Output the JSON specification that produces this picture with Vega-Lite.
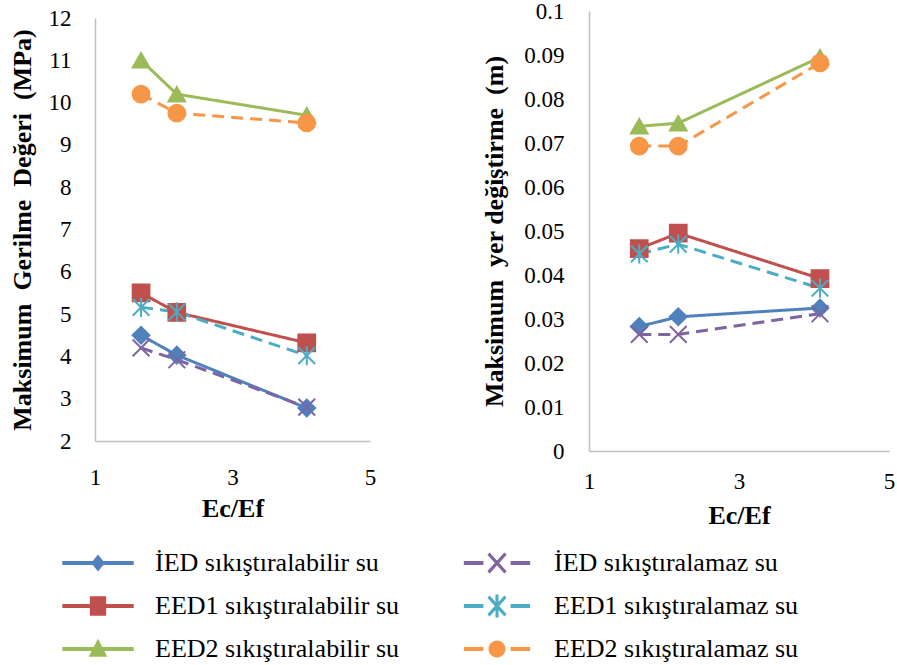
{
  "$schema": "https://vega.github.io/schema/vega-lite/v6.json",
  "background": "white",
  "padding": {"left": 9, "top": 0, "right": 0, "bottom": 0},
  "datasets": {
    "olcum": [
      {"seri": "İED sıkıştıralabilir su", "EcEf": 1.67, "gerilme": 4.5, "yer": 0.0283},
      {"seri": "İED sıkıştıralabilir su", "EcEf": 2.19, "gerilme": 4.03, "yer": 0.0305},
      {"seri": "İED sıkıştıralabilir su", "EcEf": 4.08, "gerilme": 2.78, "yer": 0.0325},
      {"seri": "İED sıkıştıralamaz su", "EcEf": 1.67, "gerilme": 4.2, "yer": 0.0265},
      {"seri": "İED sıkıştıralamaz su", "EcEf": 2.19, "gerilme": 3.92, "yer": 0.0265},
      {"seri": "İED sıkıştıralamaz su", "EcEf": 4.08, "gerilme": 2.8, "yer": 0.0312},
      {"seri": "EED1 sıkıştıralabilir su", "EcEf": 1.67, "gerilme": 5.5, "yer": 0.046},
      {"seri": "EED1 sıkıştıralabilir su", "EcEf": 2.19, "gerilme": 5.04, "yer": 0.0495},
      {"seri": "EED1 sıkıştıralabilir su", "EcEf": 4.08, "gerilme": 4.32, "yer": 0.0392},
      {"seri": "EED1 sıkıştıralamaz su", "EcEf": 1.67, "gerilme": 5.16, "yer": 0.0448},
      {"seri": "EED1 sıkıştıralamaz su", "EcEf": 2.19, "gerilme": 5.05, "yer": 0.047},
      {"seri": "EED1 sıkıştıralamaz su", "EcEf": 4.08, "gerilme": 4.02, "yer": 0.037},
      {"seri": "EED2 sıkıştıralabilir su", "EcEf": 1.67, "gerilme": 11.0, "yer": 0.0738},
      {"seri": "EED2 sıkıştıralabilir su", "EcEf": 2.19, "gerilme": 10.2, "yer": 0.0745},
      {"seri": "EED2 sıkıştıralabilir su", "EcEf": 4.08, "gerilme": 9.7, "yer": 0.0895},
      {"seri": "EED2 sıkıştıralamaz su", "EcEf": 1.67, "gerilme": 10.2, "yer": 0.0693},
      {"seri": "EED2 sıkıştıralamaz su", "EcEf": 2.19, "gerilme": 9.75, "yer": 0.0693},
      {"seri": "EED2 sıkıştıralamaz su", "EcEf": 4.08, "gerilme": 9.52, "yer": 0.0882}
    ]
  },
  "data": {"name": "olcum"},
  "spacing": 105,
  "center": true,
  "hconcat": [
    {
      "width": 275,
      "height": 423,
      "encoding": {
        "x": {"field": "EcEf", "type": "quantitative", "scale": {"domain": [1, 5]},
              "axis": {"title": "Ec/Ef", "values": [1, 3, 5], "format": "d", "labelPadding": 25, "titlePadding": 6}},
        "y": {"field": "gerilme", "type": "quantitative", "scale": {"domain": [2, 12], "zero": false},
              "axis": {"title": "Maksimum\u00a0 Gerilme\u00a0 Değeri\u00a0 (MPa)", "values": [2, 3, 4, 5, 6, 7, 8, 9, 10, 11, 12], "labelPadding": 24, "titlePadding": 13}},
        "color": {"field": "seri", "type": "nominal", "legend": {"title": null},
                  "scale": {"domain": ["İED sıkıştıralabilir su", "EED1 sıkıştıralabilir su", "EED2 sıkıştıralabilir su", "İED sıkıştıralamaz su", "EED1 sıkıştıralamaz su", "EED2 sıkıştıralamaz su"],
                            "range": ["#4F81BD", "#C0504D", "#9BBB59", "#8064A2", "#4BACC6", "#F79646"]}}
      },
      "layer": [
        {
          "mark": {"type": "line", "strokeWidth": 3},
          "encoding": {
            "strokeDash": {"field": "seri", "type": "nominal", "legend": null,
                           "scale": {"domain": ["İED sıkıştıralabilir su", "EED1 sıkıştıralabilir su", "EED2 sıkıştıralabilir su", "İED sıkıştıralamaz su", "EED1 sıkıştıralamaz su", "EED2 sıkıştıralamaz su"],
                                     "range": [[1, 0], [1, 0], [1, 0], [12, 7], [12, 7], [12, 7]]}}
          }
        },
        {
          "transform": [{"filter": {"field": "seri", "equal": "İED sıkıştıralabilir su"}}],
          "mark": {"type": "point", "shape": "diamond", "filled": true, "opacity": 1, "size": 280, "strokeWidth": 2, "stroke": {"expr": "scale('color', datum.seri)"}}
        },
        {
          "transform": [{"filter": {"field": "seri", "equal": "İED sıkıştıralamaz su"}}],
          "mark": {"type": "point", "shape": "M-1,-1L1,1M-1,1L1,-1", "filled": true, "opacity": 1, "size": 280, "strokeWidth": 2, "stroke": {"expr": "scale('color', datum.seri)"}}
        },
        {
          "transform": [{"filter": {"field": "seri", "equal": "EED1 sıkıştıralabilir su"}}],
          "mark": {"type": "point", "shape": "square", "filled": true, "opacity": 1, "size": 280, "strokeWidth": 2, "stroke": {"expr": "scale('color', datum.seri)"}}
        },
        {
          "transform": [{"filter": {"field": "seri", "equal": "EED1 sıkıştıralamaz su"}}],
          "mark": {"type": "point", "shape": "M-1,-1L1,1M-1,1L1,-1M0,-1.15V1.15", "filled": true, "opacity": 1, "size": 280, "strokeWidth": 2, "stroke": {"expr": "scale('color', datum.seri)"}}
        },
        {
          "transform": [{"filter": {"field": "seri", "equal": "EED2 sıkıştıralabilir su"}}],
          "mark": {"type": "point", "shape": "triangle-up", "filled": true, "opacity": 1, "size": 280, "strokeWidth": 2, "stroke": {"expr": "scale('color', datum.seri)"}}
        },
        {
          "transform": [{"filter": {"field": "seri", "equal": "EED2 sıkıştıralamaz su"}}],
          "mark": {"type": "point", "shape": "circle", "filled": true, "opacity": 1, "size": 280, "strokeWidth": 2, "stroke": {"expr": "scale('color', datum.seri)"}}
        },
        {
          "mark": {"type": "point", "filled": true, "opacity": 0},
          "encoding": {
            "shape": {"field": "seri", "type": "nominal", "legend": {"title": null},
                      "scale": {"domain": ["İED sıkıştıralabilir su", "EED1 sıkıştıralabilir su", "EED2 sıkıştıralabilir su", "İED sıkıştıralamaz su", "EED1 sıkıştıralamaz su", "EED2 sıkıştıralamaz su"],
                                "range": [
                                  "M-2.1,-0.12H2.1V0.12H-2.1ZM0,-0.5L0.4,0L0,0.5L-0.4,0Z",
                                  "M-2.1,-0.12H2.1V0.12H-2.1ZM-0.48,-0.58H0.48V0.58H-0.48Z",
                                  "M-2.1,-0.12H2.1V0.12H-2.1ZM0,-0.6L0.55,0.45H-0.55Z",
                                  "M-1.95,-0.12H-0.8V0.12H-1.95ZM0.8,-0.12H1.95V0.12H0.8ZM-0.567,-0.489L0.433,0.611L0.567,0.489L-0.433,-0.611ZM-0.433,0.611L0.567,-0.489L0.433,-0.611L-0.567,0.489Z",
                                  "M-1.95,-0.12H-0.8V0.12H-1.95ZM0.8,-0.12H1.95V0.12H0.8ZM-0.567,-0.489L0.433,0.611L0.567,0.489L-0.433,-0.611ZM-0.433,0.611L0.567,-0.489L0.433,-0.611L-0.567,0.489ZM-0.09,-0.68V0.68H0.09V-0.68Z",
                                  "M-1.95,-0.12H-0.8V0.12H-1.95ZM0.8,-0.12H1.95V0.12H0.8ZM-0.5,0A0.5,0.5 0 1,1 0.5,0A0.5,0.5 0 1,1 -0.5,0Z"
                                ]}}
          }
        }
      ]
    },
    {
      "width": 300,
      "height": 440,
      "encoding": {
        "x": {"field": "EcEf", "type": "quantitative", "scale": {"domain": [1, 5]},
              "axis": {"title": "Ec/Ef", "values": [1, 3, 5], "format": "d", "labelPadding": 19, "titlePadding": 9}},
        "y": {"field": "yer", "type": "quantitative", "scale": {"domain": [0, 0.1]},
              "axis": {"title": "Maksimum\u00a0 yer değiştirme\u00a0 (m)", "values": [0, 0.01, 0.02, 0.03, 0.04, 0.05, 0.06, 0.07, 0.08, 0.09, 0.1], "format": "~g", "labelPadding": 25, "titlePadding": 16}},
        "color": {"field": "seri", "type": "nominal", "legend": {"title": null}}
      },
      "layer": [
        {
          "mark": {"type": "line", "strokeWidth": 3},
          "encoding": {
            "strokeDash": {"field": "seri", "type": "nominal", "legend": null}
          }
        },
        {
          "transform": [{"filter": {"field": "seri", "equal": "İED sıkıştıralabilir su"}}],
          "mark": {"type": "point", "shape": "diamond", "filled": true, "opacity": 1, "size": 280, "strokeWidth": 2, "stroke": {"expr": "scale('color', datum.seri)"}}
        },
        {
          "transform": [{"filter": {"field": "seri", "equal": "İED sıkıştıralamaz su"}}],
          "mark": {"type": "point", "shape": "M-1,-1L1,1M-1,1L1,-1", "filled": true, "opacity": 1, "size": 280, "strokeWidth": 2, "stroke": {"expr": "scale('color', datum.seri)"}}
        },
        {
          "transform": [{"filter": {"field": "seri", "equal": "EED1 sıkıştıralabilir su"}}],
          "mark": {"type": "point", "shape": "square", "filled": true, "opacity": 1, "size": 280, "strokeWidth": 2, "stroke": {"expr": "scale('color', datum.seri)"}}
        },
        {
          "transform": [{"filter": {"field": "seri", "equal": "EED1 sıkıştıralamaz su"}}],
          "mark": {"type": "point", "shape": "M-1,-1L1,1M-1,1L1,-1M0,-1.15V1.15", "filled": true, "opacity": 1, "size": 280, "strokeWidth": 2, "stroke": {"expr": "scale('color', datum.seri)"}}
        },
        {
          "transform": [{"filter": {"field": "seri", "equal": "EED2 sıkıştıralabilir su"}}],
          "mark": {"type": "point", "shape": "triangle-up", "filled": true, "opacity": 1, "size": 280, "strokeWidth": 2, "stroke": {"expr": "scale('color', datum.seri)"}}
        },
        {
          "transform": [{"filter": {"field": "seri", "equal": "EED2 sıkıştıralamaz su"}}],
          "mark": {"type": "point", "shape": "circle", "filled": true, "opacity": 1, "size": 280, "strokeWidth": 2, "stroke": {"expr": "scale('color', datum.seri)"}}
        }
      ]
    }
  ],
  "config": {
    "font": "Liberation Serif, Times New Roman, serif",
    "view": {"stroke": null},
    "axis": {
      "grid": false,
      "ticks": false,
      "tickSize": 0,
      "domainColor": "#bfbfbf",
      "domainWidth": 1.5,
      "labelFont": "Liberation Serif, Times New Roman, serif",
      "labelFontSize": 23,
      "labelColor": "#000000",
      "labelFlush": false,
      "labelOverlap": false,
      "titleFont": "Liberation Serif, Times New Roman, serif",
      "titleFontSize": 26,
      "titleFontWeight": "bold",
      "titleColor": "#000000"
    },
    "legend": {
      "orient": "none",
      "legendX": -14,
      "legendY": 535,
      "columns": 2,
      "symbolSize": 1156,
      "symbolStrokeWidth": 0,
      "symbolOpacity": 1,
      "labelFont": "Liberation Serif, Times New Roman, serif",
      "labelFontSize": 26,
      "labelColor": "#000000",
      "labelOffset": 40,
      "labelLimit": 0,
      "rowPadding": 13,
      "columnPadding": 63
    }
  }
}
